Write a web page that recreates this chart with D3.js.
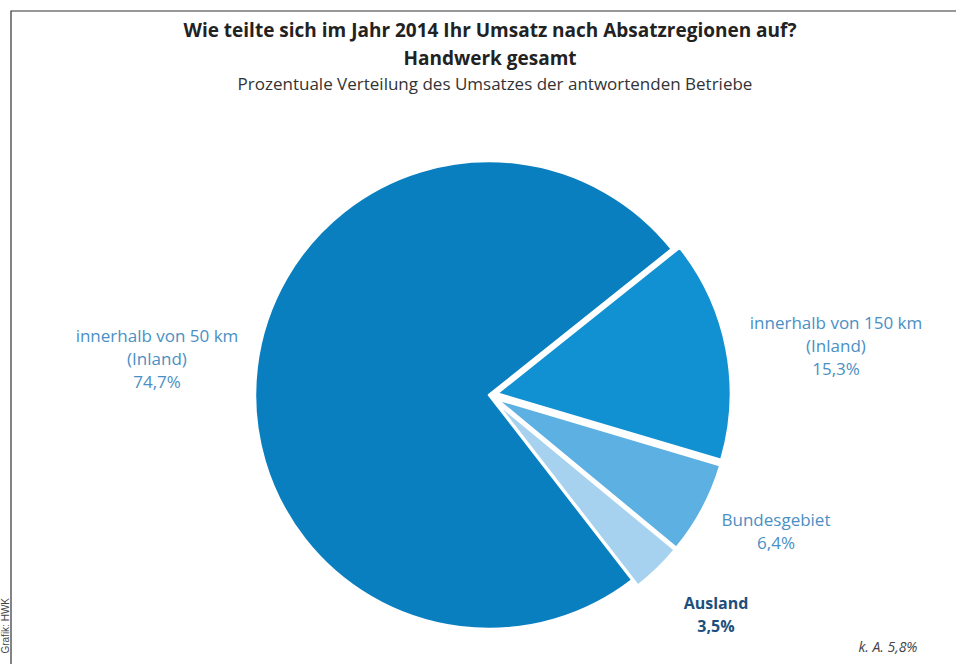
<!DOCTYPE html>
<html>
<head>
<meta charset="utf-8">
<script src="https://cdn.jsdelivr.net/npm/d3@7"></script>
<style>
  body { margin: 0; background: #fff; }
  svg { display: block; }
</style>
</head>
<body>
<script>
// Width and height
var w = 956;
var h = 664;

var categories = ['innerhalb von 150 km', 'Bundesgebiet', 'Ausland', 'innerhalb von 50 km'];
var values = [15.3, 6.4, 3.5, 74.7];
var valueLabels = ['15,3%', '6,4%', '3,5%', '74,7%'];
var subLabels = ['(Inland)', null, null, '(Inland)'];
var exploded = [true, true, true, false];
var colors = ['#1191d2', '#5cb0e2', '#a6d2f0', '#0a7fc0'];

var cx = 489, cy = 395, radius = 234, offset = 8;
var startDeg = 51.4;

var svg = d3.select('body')
    .append('svg')
    .attr('width', w)
    .attr('height', h);

// frame
svg.append('path')
    .attr('d', 'M11,664 V11 H956')
    .attr('fill', 'none')
    .attr('stroke', '#333')
    .attr('stroke-width', 1.2);

svg.append('text')
    .attr('transform', 'translate(9,598) rotate(-90)')
    .attr('text-anchor', 'end')
    .attr('font-family', 'Liberation Sans, Arial, sans-serif')
    .attr('font-size', '10px')
    .attr('fill', '#444')
    .text('Grafik: HWK');

// titles
var font = '"Open Sans", Lato, sans-serif';
svg.append('text')
    .attr('x', 490).attr('y', 37)
    .attr('text-anchor', 'middle')
    .attr('font-family', font)
    .attr('font-weight', 'bold')
    .attr('font-size', '19px')
    .attr('fill', '#222')
    .text('Wie teilte sich im Jahr 2014 Ihr Umsatz nach Absatzregionen auf?');

svg.append('text')
    .attr('x', 490).attr('y', 65)
    .attr('text-anchor', 'middle')
    .attr('font-family', font)
    .attr('font-weight', 'bold')
    .attr('font-size', '19px')
    .attr('fill', '#222')
    .text('Handwerk gesamt');

svg.append('text')
    .attr('x', 495).attr('y', 90)
    .attr('text-anchor', 'middle')
    .attr('font-family', font)
    .attr('font-size', '17px')
    .attr('fill', '#333')
    .text('Prozentuale Verteilung des Umsatzes der antwortenden Betriebe');

// pie
var pie = d3.pie()
    .sort(null)
    .value(d => d)
    .startAngle(startDeg * Math.PI / 180)
    .endAngle(startDeg * Math.PI / 180 + 2 * Math.PI);

var arc = d3.arc()
    .innerRadius(0)
    .outerRadius(radius);

var arcs = pie(values);

svg.append('g')
    .attr('transform', 'translate(' + cx + ',' + cy + ')')
    .selectAll('path')
    .data(arcs)
    .enter()
    .append('path')
    .attr('d', arc)
    .attr('fill', (d, i) => colors[i])
    .attr('stroke', '#fff')
    .attr('stroke-width', 2.5)
    .attr('stroke-linejoin', 'round')
    .attr('transform', (d, i) => {
        if (!exploded[i]) return null;
        var a = (d.startAngle + d.endAngle) / 2;
        return 'translate(' + (Math.sin(a) * offset) + ',' + (-Math.cos(a) * offset) + ')';
    });

// labels
var labelPos = [[836, 329], [776, 526], [716, 609], [157, 342]];

categories.forEach((c, i) => {
    var isBold = i === 2;
    var lines = [c];
    if (subLabels[i]) lines.push(subLabels[i]);
    lines.push(valueLabels[i]);
    var t = svg.append('text')
        .attr('text-anchor', 'middle')
        .attr('font-family', font)
        .attr('font-size', isBold ? '16px' : '17px')
        .attr('font-weight', isBold ? 'bold' : 'normal')
        .attr('fill', isBold ? '#1d4f7c' : '#4a90c4');
    lines.forEach((l, j) => {
        t.append('tspan')
            .attr('x', labelPos[i][0])
            .attr('y', labelPos[i][1] + j * 23)
            .text(l);
    });
});

// keine Angabe
svg.append('text')
    .attr('x', 888).attr('y', 652)
    .attr('text-anchor', 'middle')
    .attr('font-family', font)
    .attr('font-style', 'italic')
    .attr('font-size', '14px')
    .attr('fill', '#444')
    .text('k. A. 5,8%');
</script>
</body>
</html>
